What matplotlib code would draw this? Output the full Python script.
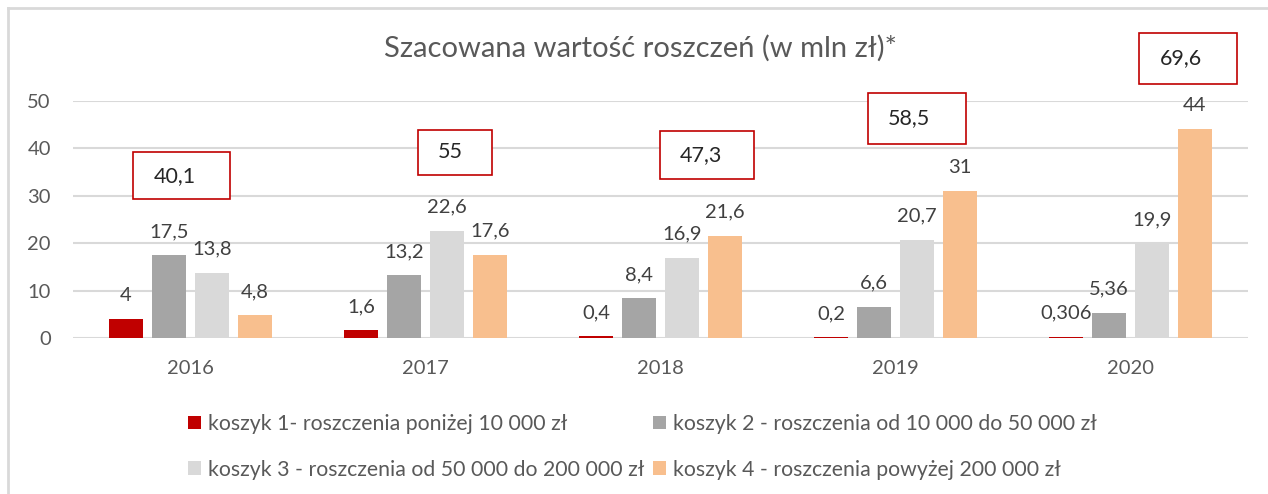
import matplotlib
matplotlib.use("Agg")
import matplotlib.pyplot as plt
from matplotlib.patches import Rectangle
from matplotlib.lines import Line2D
import numpy as np

plt.rcParams['font.family'] = ['Lato', 'DejaVu Sans']

# data
years = ["2016", "2017", "2018", "2019", "2020"]
series_names = [
    "koszyk 1- roszczenia poniżej 10 000 zł",
    "koszyk 2 - roszczenia od 10 000 do 50 000 zł",
    "koszyk 3 - roszczenia od 50 000 do 200 000 zł",
    "koszyk 4 - roszczenia powyżej 200 000 zł",
]
koszyk1 = [4, 1.6, 0.4, 0.2, 0.306]
koszyk2 = [17.5, 13.2, 8.4, 6.6, 5.36]
koszyk3 = [13.8, 22.6, 16.9, 20.7, 19.9]
koszyk4 = [4.8, 17.6, 21.6, 31, 44]
label1 = ["4", "1,6", "0,4", "0,2", "0,306"]
label2 = ["17,5", "13,2", "8,4", "6,6", "5,36"]
label3 = ["13,8", "22,6", "16,9", "20,7", "19,9"]
label4 = ["4,8", "17,6", "21,6", "31", "44"]
totals = ["40,1", "55", "47,3", "58,5", "69,6"]
yticks = [0, 10, 20, 30, 40, 50]

colors = ["#C00000", "#A5A5A5", "#D9D9D9", "#F8BF8E"]
text_gray = "#595959"
grid_gray = "#D9D9D9"

# hand-placed total boxes (left, right, bottom, top) relative to category centre
box_layout = [(-0.243, 0.170, 29.3, 39.2),
              (-0.034, 0.285, 34.4, 43.9),
              (-0.004, 0.400, 33.5, 43.7),
              (-0.119, 0.298, 40.9, 51.7),
              (0.038, 0.455, 53.6, 64.3)]

W, H = 1268, 494
fig = plt.figure(figsize=(W / 100, H / 100), dpi=100)
ax = fig.add_axes([73 / W, (H - 338) / H, (1248 - 73) / W, (338 - 101) / H])

x = np.arange(len(years))
width = 0.145
offsets = [-0.2745, -0.0915, 0.0915, 0.2745]
all_vals = [koszyk1, koszyk2, koszyk3, koszyk4]
all_labels = [label1, label2, label3, label4]
handles = []
for vals, labs, off, col, name in zip(all_vals, all_labels, offsets, colors, series_names):
    bars = ax.bar(x + off, vals, width, color=col, zorder=3, label=name)
    handles.append(bars)
    for rect, lab in zip(bars, labs):
        ax.annotate(lab, (rect.get_x() + rect.get_width() / 2, rect.get_height()),
                    xytext=(0, 13), textcoords="offset points", ha="center",
                    va="baseline", fontsize=14.5, color="#404040", zorder=4)

ax.set_xlim(-0.5, len(years) - 0.5)
ax.set_ylim(0, 50)
ax.set_yticks(yticks)
ax.set_xticks(x)
ax.set_xticklabels(years)
ax.tick_params(axis="both", length=0, labelsize=14.5, labelcolor=text_gray)
ax.tick_params(axis="y", pad=16)
ax.tick_params(axis="x", pad=16)
ax.grid(axis="y", color=grid_gray, linewidth=1.5, zorder=0)
for s in ax.spines.values():
    s.set_visible(False)

# total boxes
for i, (tot, (l, r, b, t)) in enumerate(zip(totals, box_layout)):
    rect = Rectangle((i + l, b), r - l, t - b, fill=True, facecolor="white",
                     edgecolor="#C00000", linewidth=1.2, clip_on=False, zorder=5)
    ax.add_patch(rect)
    ax.text(i + l + 0.085, (b + t) / 2, tot, ha="left", va="center",
            fontsize=15.5, color="#262626", zorder=6, clip_on=False)

fig.text(640 / W, 1 - 48 / H, "Szacowana wartość roszczeń (w mln zł)*",
         ha="center", va="center", fontsize=21, color=text_gray)

order = [0, 2, 1, 3]
leg = fig.legend([handles[i] for i in order], [series_names[i] for i in order],
                 ncol=2, loc="upper left", bbox_to_anchor=(188 / W, 1 - 414 / H),
                 frameon=False, fontsize=15.3, handlelength=0.61, handleheight=0.61,
                 handletextpad=0.33, columnspacing=0.4, labelspacing=1.2,
                 borderaxespad=0, borderpad=0)
for t in leg.get_texts():
    t.set_color(text_gray)

# chart border (only left and top visible in crop)
fig.add_artist(Line2D([8 / W, 8 / W], [0, 1 - 8 / H], color=grid_gray, linewidth=2,
                      transform=fig.transFigure))
fig.add_artist(Line2D([8 / W, 1], [1 - 8 / H, 1 - 8 / H], color=grid_gray, linewidth=2,
                      transform=fig.transFigure))

fig.savefig("out.png", dpi=100)
